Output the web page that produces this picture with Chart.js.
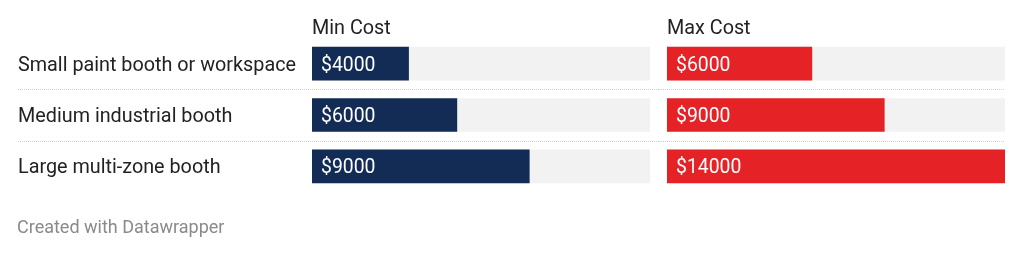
<!DOCTYPE html>
<html>
<head>
<meta charset="utf-8">
<script src="https://cdn.jsdelivr.net/npm/chart.js@4/dist/chart.umd.min.js"></script>
<style>
  body { margin: 0; background: #fff; font-family: Roboto, sans-serif; }
  .wrap { position: relative; width: 1024px; height: 254px; overflow: hidden; }
  .wrap canvas { position: absolute; top: 0; }
  .head { position: absolute; top: 16px; font-size: 19.8px; line-height: 24px; color: #222; }
  .foot { position: absolute; left: 17px; top: 216px; font-size: 18px; line-height: 22px; color: #8a8a8a; }
</style>
</head>
<body>
<div class="wrap">
  <div style="position:absolute;left:0;top:0;width:659px;height:254px"><canvas id="minChart"></canvas></div>
  <div style="position:absolute;left:659px;top:0;width:365px;height:254px"><canvas id="maxChart"></canvas></div>
  <div class="head" style="left:312px">Min Cost</div>
  <div class="head" style="left:667px">Max Cost</div>
  <div class="foot">Created with Datawrapper</div>
</div>
<script>
const categories = ['Small paint booth or workspace', 'Medium industrial booth', 'Large multi-zone booth'];
const minCost = [4000, 6000, 9000];
const maxCost = [6000, 9000, 14000];
const scaleMax = 14000;

// white value text inside the coloured bars + dotted row lines
const extras = {
  id: 'extras',
  beforeDatasetsDraw(chart, args, opts) {
    const ctx = chart.ctx;
    const y = chart.scales.y;
    ctx.save();
    ctx.strokeStyle = '#cfcfcf';
    ctx.lineWidth = 1;
    ctx.setLineDash([1, 1]);
    for (let i = 0; i < categories.length - 1; i++) {
      const yy = Math.round((y.getPixelForValue(i) + y.getPixelForValue(i + 1)) / 2) + 0.5;
      ctx.beginPath();
      ctx.moveTo(opts.lineFrom, yy);
      ctx.lineTo(chart.width - opts.lineTo, yy);
      ctx.stroke();
    }
    ctx.restore();
  },
  afterDatasetsDraw(chart) {
    const ctx = chart.ctx;
    const meta = chart.getDatasetMeta(0);
    ctx.save();
    ctx.fillStyle = '#fff';
    ctx.font = '19.4px Roboto';
    ctx.textBaseline = 'middle';
    meta.data.forEach((bar, i) => {
      ctx.fillText('$' + chart.data.datasets[0].data[i], bar.base + 9, bar.y + 2);
    });
    ctx.restore();
  }
};

function makeChart(id, values, color, showLabels, pad, lineFrom, lineTo) {
  return new Chart(document.getElementById(id), {
    type: 'bar',
    data: {
      labels: categories,
      datasets: [
        { data: values, backgroundColor: color, barThickness: 33, grouped: false, order: 0 },
        { data: categories.map(() => scaleMax), backgroundColor: '#f2f2f2', barThickness: 33, grouped: false, order: 1 }
      ]
    },
    options: {
      indexAxis: 'y',
      responsive: true,
      maintainAspectRatio: false,
      animation: false,
      layout: { padding: pad },
      plugins: {
        legend: { display: false },
        tooltip: { enabled: false },
        extras: { lineFrom: lineFrom, lineTo: lineTo }
      },
      scales: {
        x: { display: false, min: 0, max: scaleMax },
        y: {
          display: showLabels,
          grid: { display: false },
          border: { display: false },
          ticks: { color: '#222', font: { family: 'Roboto', size: 19.8 }, crossAlign: 'far', padding: 0, labelOffset: 2 },
          afterFit(scale) { if (showLabels) scale.width = 294; }
        }
      }
    },
    plugins: [extras]
  });
}

makeChart('minChart', minCost, '#132c55', true, { left: 18, right: 9, top: 38, bottom: 62 }, 18, 0);
makeChart('maxChart', maxCost, '#e52226', false, { left: 8, right: 19, top: 38, bottom: 62 }, 0, 19);
</script>
</body>
</html>
